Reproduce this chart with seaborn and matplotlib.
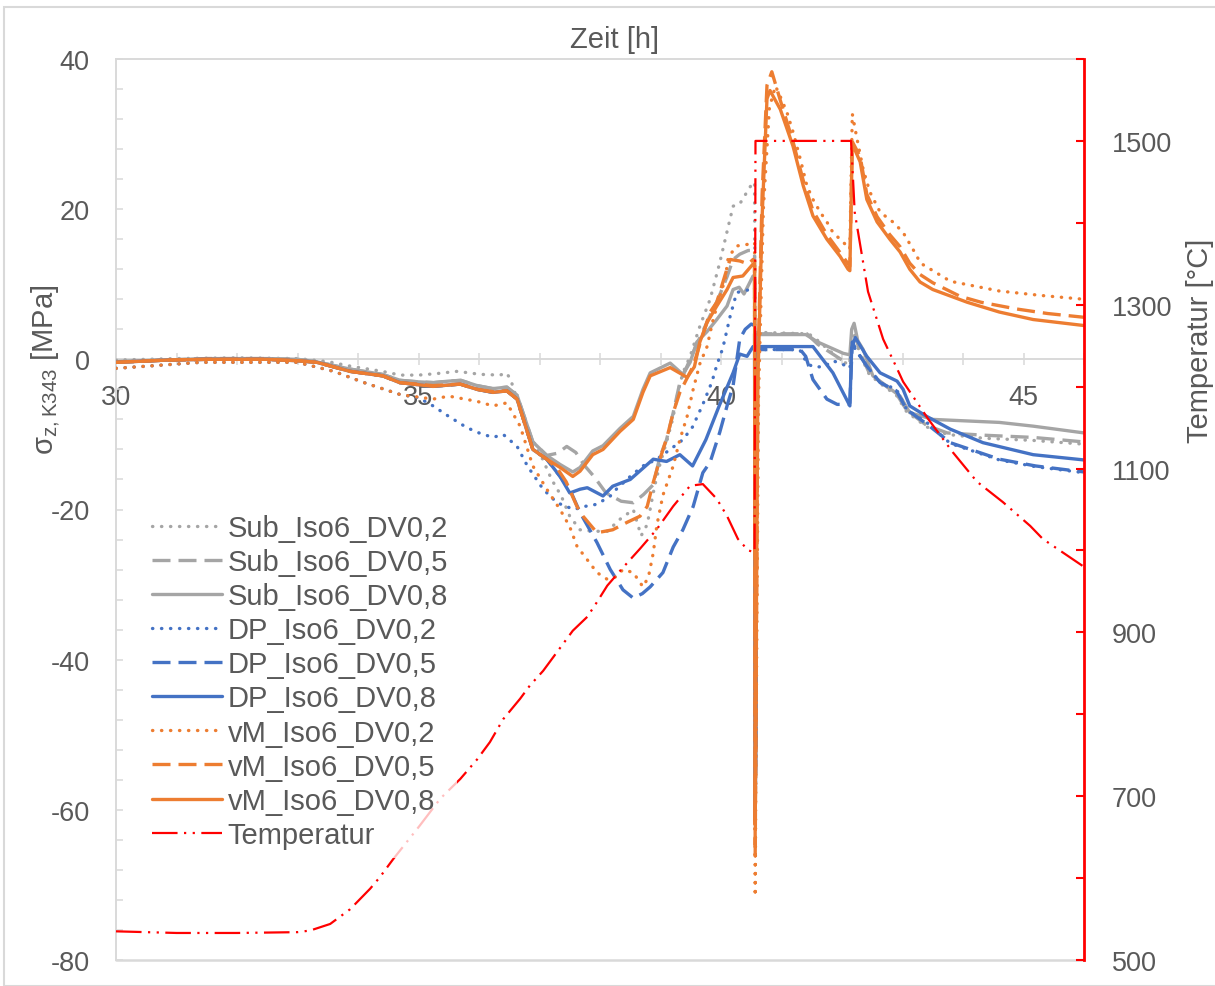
import matplotlib
matplotlib.use("Agg")
import matplotlib.pyplot as plt
from matplotlib.patches import Rectangle
from matplotlib.ticker import MultipleLocator, FixedLocator
import seaborn as sns

# Stress at K343 (MPa) over time (h) for three material models and three DV settings
SUB_02 = [(30.0,-0.1),(31.0,0.1),(32.0,0.2),(33.0,0.1),(33.5,-0.3),(33.87,-0.9),(34.4,-1.6),(34.7,-2.1),(35.0,-2.1),(35.3,-1.9),(35.64,-1.6),(36.02,-2.0),(36.35,-2.1),(36.45,-1.8),(36.52,-2.6),(36.68,-6.7),(36.89,-11.1),(37.03,-12.9),(37.2,-16.0),(37.36,-18.2),(37.5,-20.9),(37.67,-22.7),(37.88,-22.9),(38.12,-22.9),(38.33,-21.3),(38.55,-20.0),(38.68,-23.5),(38.78,-22.0),(38.9,-17.0),(38.99,-14.0),(39.1,-11.0),(39.2,-8.0),(39.3,-4.0),(39.37,-1.8),(39.49,0.4),(39.65,4.4),(39.82,8.0),(39.98,12.9),(40.12,17.7),(40.2,20.4),(40.31,20.7),(40.43,22.3),(40.53,23.6),(40.555,23.5),(40.565,-58.5),(40.575,-50.0),(40.59,3.6),(41.45,3.4),(41.6,2.5),(42.02,-0.4),(42.13,-0.6),(42.17,2.6),(42.22,3.0),(42.3,0.6),(42.45,-2.0),(42.63,-3.2),(42.9,-4.8),(43.07,-7.0),(43.4,-9.0),(43.74,-10.0),(44.33,-10.5),(45.16,-10.8),(46.0,-11.3)]
SUB_05 = [(30.0,-0.3),(30.8,-0.1),(31.5,0.1),(32.5,0.1),(33.0,0.0),(33.3,-0.3),(33.87,-1.3),(34.4,-2.0),(34.7,-2.8),(35.0,-3.0),(35.25,-3.1),(35.5,-2.9),(35.7,-2.8),(35.97,-3.5),(36.23,-3.9),(36.46,-3.7),(36.63,-4.8),(36.89,-11.0),(37.12,-12.8),(37.3,-12.5),(37.45,-11.6),(37.6,-12.4),(37.75,-14.2),(37.9,-15.6),(38.1,-17.8),(38.35,-18.9),(38.55,-19.1),(38.72,-18.0),(38.88,-16.7),(38.99,-13.0),(39.1,-10.7),(39.21,-7.1),(39.32,-3.1),(39.44,-0.9),(39.6,2.0),(39.8,5.5),(39.95,8.0),(40.1,11.0),(40.2,13.3),(40.31,14.0),(40.45,14.5),(40.53,14.5),(40.555,14.3),(40.565,-59.0),(40.575,-50.0),(40.59,3.4),(41.42,3.4),(41.6,2.0),(42.02,-0.2),(42.13,-0.4),(42.17,3.0),(42.22,3.2),(42.3,0.8),(42.45,-1.8),(42.63,-3.0),(42.9,-4.6),(43.07,-6.8),(43.4,-8.8),(43.74,-9.8),(44.33,-10.1),(45.16,-10.4),(46.0,-11.0)]
SUB_08 = [(30.0,-0.3),(30.8,-0.1),(31.5,0.1),(32.5,0.1),(33.0,0.0),(33.3,-0.3),(33.87,-1.3),(34.4,-2.0),(34.7,-2.8),(35.0,-3.0),(35.25,-3.1),(35.5,-2.9),(35.7,-2.8),(35.97,-3.5),(36.23,-3.9),(36.46,-3.7),(36.63,-4.8),(36.89,-11.0),(37.12,-12.8),(37.34,-14.0),(37.55,-15.0),(37.67,-14.4),(37.88,-12.2),(38.05,-11.5),(38.33,-9.2),(38.55,-7.6),(38.71,-4.0),(38.83,-1.8),(39.16,-0.5),(39.37,-2.0),(39.49,-0.4),(39.6,2.3),(39.77,3.7),(39.93,5.3),(40.1,7.1),(40.2,9.3),(40.3,9.6),(40.38,8.7),(40.53,11.1),(40.555,11.0),(40.565,-58.0),(40.575,-52.0),(40.59,3.3),(41.4,3.3),(41.6,2.3),(42.02,0.8),(42.13,0.6),(42.16,4.0),(42.2,4.8),(42.26,2.5),(42.35,1.3),(42.51,-2.2),(42.96,-4.9),(43.12,-7.1),(43.5,-8.0),(44.6,-8.4),(45.16,-8.9),(46.0,-9.8)]
DP_02 = [(30.0,-1.2),(31.4,-0.4),(33.0,-0.4),(33.6,-1.6),(34.1,-3.1),(34.7,-4.7),(35.0,-5.1),(35.24,-6.2),(35.5,-7.6),(35.8,-9.1),(36.0,-9.8),(36.23,-10.4),(36.4,-10.0),(36.63,-11.6),(36.8,-14.2),(37.06,-17.3),(37.29,-19.1),(37.57,-20.0),(37.74,-19.6),(37.95,-19.3),(38.17,-18.2),(38.27,-17.3),(38.5,-15.6),(38.71,-14.2),(38.94,-13.3),(39.16,-12.0),(39.37,-10.7),(39.53,-9.0),(39.7,-6.0),(39.85,-3.0),(39.93,-0.8),(40.03,1.5),(40.15,5.7),(40.26,8.9),(40.48,9.3),(40.53,9.6),(40.555,9.5),(40.565,-60.0),(40.575,-50.0),(40.59,1.3),(41.3,1.3),(41.42,-0.5),(41.52,-1.0),(41.7,-1.0),(41.85,-0.2),(42.0,-0.6),(42.13,-1.2),(42.17,2.0),(42.25,1.0),(42.41,-0.9),(42.63,-3.1),(42.9,-4.0),(43.07,-6.7),(43.4,-8.4),(43.79,-11.2),(44.6,-13.4),(45.2,-14.3),(46.0,-15.1)]
DP_05 = [(30.0,-0.4),(30.84,-0.1),(31.5,0.0),(32.5,0.0),(33.04,-0.2),(33.32,-0.4),(33.87,-1.6),(34.41,-2.2),(34.69,-3.1),(35.24,-3.6),(35.69,-3.3),(35.97,-4.0),(36.23,-4.4),(36.46,-4.2),(36.63,-5.3),(36.89,-12.0),(37.12,-13.3),(37.34,-15.6),(37.5,-17.3),(37.67,-20.4),(37.95,-24.4),(38.17,-28.0),(38.38,-30.7),(38.55,-31.8),(38.7,-31.2),(38.83,-30.3),(39.04,-28.4),(39.21,-25.0),(39.37,-22.7),(39.54,-19.6),(39.7,-15.1),(39.82,-13.7),(39.98,-9.7),(40.1,-6.2),(40.2,-3.5),(40.31,2.7),(40.4,4.0),(40.5,4.7),(40.555,4.5),(40.565,-60.5),(40.575,-50.0),(40.59,1.3),(41.31,1.3),(41.4,0.4),(41.52,-2.7),(41.75,-5.3),(41.92,-6.0),(42.1,-6.0),(42.13,-5.8),(42.17,2.3),(42.25,1.0),(42.41,-0.9),(42.63,-3.1),(42.9,-4.2),(43.07,-6.7),(43.4,-8.6),(43.79,-11.1),(44.6,-13.3),(45.2,-14.2),(46.0,-15.0)]
DP_08 = [(30.0,-0.4),(30.84,-0.1),(31.5,0.0),(32.5,0.0),(33.04,-0.2),(33.32,-0.4),(33.87,-1.6),(34.41,-2.2),(34.69,-3.1),(35.24,-3.6),(35.69,-3.3),(35.97,-4.0),(36.23,-4.4),(36.46,-4.2),(36.63,-5.3),(36.89,-12.0),(37.12,-13.3),(37.34,-15.6),(37.5,-17.8),(37.67,-17.3),(37.79,-17.1),(38.05,-18.2),(38.21,-16.9),(38.5,-16.0),(38.88,-13.3),(39.1,-13.6),(39.32,-12.7),(39.53,-14.2),(39.75,-10.7),(39.97,-6.2),(40.2,-1.8),(40.31,0.7),(40.43,0.4),(40.53,1.7),(40.555,1.7),(40.565,-61.5),(40.575,-50.0),(40.59,1.7),(41.52,1.7),(41.85,-1.8),(42.13,-6.2),(42.16,1.5),(42.22,2.9),(42.41,0.4),(42.63,-1.8),(42.91,-2.9),(43.01,-4.0),(43.12,-6.2),(43.4,-7.6),(43.79,-9.3),(44.33,-11.1),(45.16,-12.7),(46.0,-13.4)]
VM_02 = [(30.0,-1.2),(31.4,-0.4),(33.0,-0.4),(33.6,-1.6),(34.1,-3.1),(34.7,-4.7),(35.24,-5.3),(35.5,-4.9),(35.97,-5.6),(36.23,-6.2),(36.46,-5.8),(36.68,-8.9),(36.89,-14.2),(37.12,-17.3),(37.34,-20.0),(37.5,-22.3),(37.62,-24.9),(37.79,-26.7),(37.95,-28.4),(38.12,-29.3),(38.25,-29.0),(38.38,-28.0),(38.55,-28.4),(38.71,-30.3),(38.8,-29.0),(38.88,-25.8),(38.94,-22.1),(39.04,-18.1),(39.21,-14.2),(39.32,-10.7),(39.44,-7.6),(39.54,-4.0),(39.65,-0.6),(39.77,1.7),(39.87,5.3),(39.98,8.4),(40.07,10.7),(40.12,13.6),(40.26,15.1),(40.43,15.3),(40.53,15.6),(40.555,15.5),(40.565,-71.5),(40.58,-50.0),(40.62,-5.0),(40.7,20.0),(40.8,33.5),(40.9,36.4),(40.98,35.0),(41.09,32.9),(41.19,30.3),(41.31,26.7),(41.42,23.1),(41.52,21.3),(41.64,19.6),(41.75,18.3),(41.85,16.9),(42.02,15.6),(42.13,14.7),(42.17,32.7),(42.24,29.7),(42.35,25.3),(42.46,22.3),(42.63,19.6),(42.84,18.3),(43.01,16.9),(43.17,14.7),(43.3,12.8),(43.79,10.4),(44.6,9.1),(45.3,8.5),(46.0,8.0)]
VM_05 = [(30.0,-0.4),(30.84,-0.1),(31.5,0.0),(32.5,0.0),(33.04,-0.2),(33.32,-0.4),(33.87,-1.6),(34.41,-2.2),(34.69,-3.1),(35.24,-3.5),(35.69,-3.3),(35.97,-4.0),(36.23,-4.3),(36.46,-4.2),(36.63,-5.3),(36.89,-12.0),(37.12,-13.3),(37.3,-14.6),(37.44,-16.3),(37.62,-19.6),(37.72,-20.9),(37.95,-23.1),(38.21,-22.7),(38.45,-21.7),(38.66,-20.9),(38.78,-19.6),(38.88,-16.4),(38.99,-13.3),(39.11,-10.3),(39.21,-7.1),(39.32,-4.4),(39.54,-0.9),(39.65,2.0),(39.82,6.3),(39.93,7.6),(40.07,11.3),(40.15,13.3),(40.31,13.1),(40.45,12.7),(40.53,13.3),(40.555,13.0),(40.565,-66.0),(40.58,-45.0),(40.61,-1.0),(40.68,22.0),(40.76,36.5),(40.84,38.3),(40.98,34.5),(41.19,29.0),(41.36,23.8),(41.52,19.8),(41.75,16.6),(41.97,14.2),(42.13,12.4),(42.17,29.0),(42.3,27.0),(42.41,22.0),(42.58,19.0),(42.79,16.6),(42.96,15.0),(43.12,12.8),(43.29,11.3),(43.5,10.2),(43.95,8.4),(44.3,7.6),(44.89,6.7),(45.4,6.1),(46.0,5.6)]
VM_08 = [(30.0,-0.4),(30.84,-0.1),(31.5,0.0),(32.5,0.0),(33.04,-0.2),(33.32,-0.4),(33.87,-1.6),(34.41,-2.2),(34.69,-3.1),(35.24,-3.6),(35.69,-3.3),(35.97,-4.0),(36.23,-4.4),(36.46,-4.2),(36.63,-5.3),(36.89,-12.0),(37.12,-13.3),(37.34,-14.4),(37.55,-15.6),(37.67,-14.9),(37.88,-12.7),(38.05,-12.0),(38.33,-9.6),(38.55,-8.0),(38.71,-4.4),(38.83,-2.2),(39.16,-1.1),(39.44,-2.4),(39.56,-1.0),(39.65,2.3),(39.77,4.9),(39.93,7.1),(40.1,9.3),(40.2,10.9),(40.36,11.1),(40.53,12.7),(40.555,12.5),(40.565,-62.0),(40.58,-40.0),(40.61,-2.7),(40.68,19.0),(40.76,34.7),(40.81,35.8),(40.98,33.3),(41.19,28.4),(41.36,23.1),(41.52,19.1),(41.75,16.0),(41.97,13.7),(42.1,12.0),(42.13,11.8),(42.17,28.7),(42.3,26.3),(42.41,21.3),(42.58,18.3),(42.79,16.0),(42.96,14.3),(43.12,12.0),(43.29,10.3),(43.5,9.3),(44.07,7.6),(44.6,6.3),(45.16,5.3),(46.0,4.5)]

# Temperature (°C) on the secondary axis
TEMP = [(30.0,535),(31.0,533),(32.0,533),(33.0,534),(33.21,536),(33.54,544),(33.87,562),(34.2,587),(34.36,601),(34.58,623),(35.02,664),(35.36,697),(35.69,721),(35.97,745),(36.18,766),(36.4,794),(36.68,819),(36.84,835),(37.06,853),(37.29,876),(37.55,902),(37.79,919),(37.95,937),(38.12,957),(38.33,975),(38.66,1002),(38.94,1026),(39.21,1054),(39.49,1079),(39.7,1081),(39.93,1063),(40.1,1042),(40.28,1014),(40.45,1000),(40.555,998),(40.57,1500),(42.15,1500),(42.21,1413),(42.43,1316),(42.68,1258),(42.91,1222),(43.01,1206),(43.42,1161),(43.83,1120),(44.23,1084),(44.66,1059),(45.11,1030),(45.32,1014),(46.0,980)]

X_TICKS = [30, 35, 40, 45]
Y_TICKS = [-80, -60, -40, -20, 0, 20, 40]
T_TICKS = [500, 700, 900, 1100, 1300, 1500]

GRAY, BLUE, ORANGE, RED = "#A5A5A5", "#4472C4", "#ED7D31", "#FF0000"
TXT, AXC = "#595959", "#D9D9D9"

sns.set_theme(style="white")
plt.rcParams["font.family"] = ["Liberation Sans", "DejaVu Sans"]
plt.rcParams["mathtext.default"] = "regular"
plt.rcParams["axes.unicode_minus"] = False

W, H = 1215, 987
fig = plt.figure(figsize=(W / 100, H / 100), dpi=100)
fig.patch.set_facecolor("white")
fig.patches.append(Rectangle((4 / W, 0), 1.2, 1 - 8 / H, transform=fig.transFigure,
                             fill=False, edgecolor=AXC, lw=1.5))

ax = fig.add_axes([116 / W, 1 - 961 / H, (1084 - 116) / W, (961 - 60) / H])
ax2 = ax.twinx()

LINE_STYLES = {
    "dot": dict(linestyle=(0, (0.1, 2.6)), dash_capstyle="round"),
    "dash": dict(linestyle=(0, (5.4, 2.4))),
    "solid": dict(linestyle="-"),
}
SERIES = [
    ("Sub_Iso6_DV0,2", SUB_02, GRAY, "dot"),
    ("Sub_Iso6_DV0,5", SUB_05, GRAY, "dash"),
    ("Sub_Iso6_DV0,8", SUB_08, GRAY, "solid"),
    ("DP_Iso6_DV0,2", DP_02, BLUE, "dot"),
    ("DP_Iso6_DV0,5", DP_05, BLUE, "dash"),
    ("DP_Iso6_DV0,8", DP_08, BLUE, "solid"),
    ("vM_Iso6_DV0,2", VM_02, ORANGE, "dot"),
    ("vM_Iso6_DV0,5", VM_05, ORANGE, "dash"),
    ("vM_Iso6_DV0,8", VM_08, ORANGE, "solid"),
]

handles, labels = [], []
for name, pts, col, st in SERIES:
    hrs, sig = zip(*pts)
    sns.lineplot(x=list(hrs), y=list(sig), ax=ax, color=col, linewidth=2.4,
                 estimator=None, sort=False, legend=False, zorder=3,
                 **LINE_STYLES[st])
    handles.append(ax.lines[-1])
    labels.append(name)

th, tv = zip(*TEMP)
sns.lineplot(x=list(th), y=list(tv), ax=ax2, color=RED, linewidth=1.6,
             linestyle=(0, (11.5, 2.9, 1, 2.9, 1, 2.9)),
             estimator=None, sort=False, legend=False)
handles.append(ax2.lines[-1])
labels.append("Temperatur")

# primary axis: stress
ax.set_xlim(30, 46)
ax.set_ylim(-80, 40)
ax.set_xlabel("")
ax.set_ylabel("")
ax.spines["bottom"].set_position(("data", 0))
for sp in ("bottom", "left", "top"):
    ax.spines[sp].set_color(AXC)
    ax.spines[sp].set_linewidth(1.4)
ax.spines["right"].set_visible(False)
ax.axhline(-80, color=AXC, lw=1.8, clip_on=False, zorder=1)

ax.xaxis.set_major_locator(FixedLocator(X_TICKS))
ax.xaxis.set_minor_locator(MultipleLocator(1))
ax.tick_params(axis="x", which="both", direction="inout", length=9, width=1.1,
               color=AXC, labelsize=19.5, labelcolor=TXT, pad=13, bottom=True, top=False)
ax.yaxis.set_major_locator(FixedLocator(Y_TICKS))
ax.yaxis.set_minor_locator(MultipleLocator(4))
ax.tick_params(axis="y", which="both", direction="in", length=5, width=1.1,
               color=AXC, labelsize=19.5, labelcolor=TXT, pad=19, left=True, right=False)
ax.grid(False)

# secondary axis: temperature
ax2.set_ylim(500, 1600)
ax2.set_ylabel("")
for sp in ("bottom", "left", "top"):
    ax2.spines[sp].set_visible(False)
ax2.spines["right"].set_color(RED)
ax2.spines["right"].set_linewidth(2.0)
ax2.yaxis.set_major_locator(FixedLocator(T_TICKS))
ax2.yaxis.set_minor_locator(MultipleLocator(100))
ax2.tick_params(axis="y", which="both", direction="in", length=6, width=1.5,
                color=RED, labelsize=19.5, labelcolor=TXT, pad=20, right=True, left=False)
ax2.grid(False)

fig.text(615 / W, 1 - 40 / H, "Zeit [h]", ha="center", va="center", fontsize=21, color=TXT)
fig.text(45 / W, 1 - 370 / H, r"$\mathregular{σ_{z,K343}}$ [MPa]", rotation=90,
         ha="center", va="center", fontsize=21, color=TXT)
fig.text(1200 / W, 1 - 341 / H, "Temperatur [°C]", rotation=90,
         ha="center", va="center", fontsize=21, color=TXT)

leg = ax2.legend(handles, labels, loc="upper left",
                 bbox_to_anchor=(143 / W, 1 - 506 / H), bbox_transform=fig.transFigure,
                 fontsize=21, frameon=True, facecolor="white", edgecolor="none",
                 framealpha=0.75, handlelength=2.4, handletextpad=0.2,
                 labelspacing=0.21, borderpad=0.3, borderaxespad=0)
for t in leg.get_texts():
    t.set_color(TXT)

fig.savefig("out.png", dpi=100)
